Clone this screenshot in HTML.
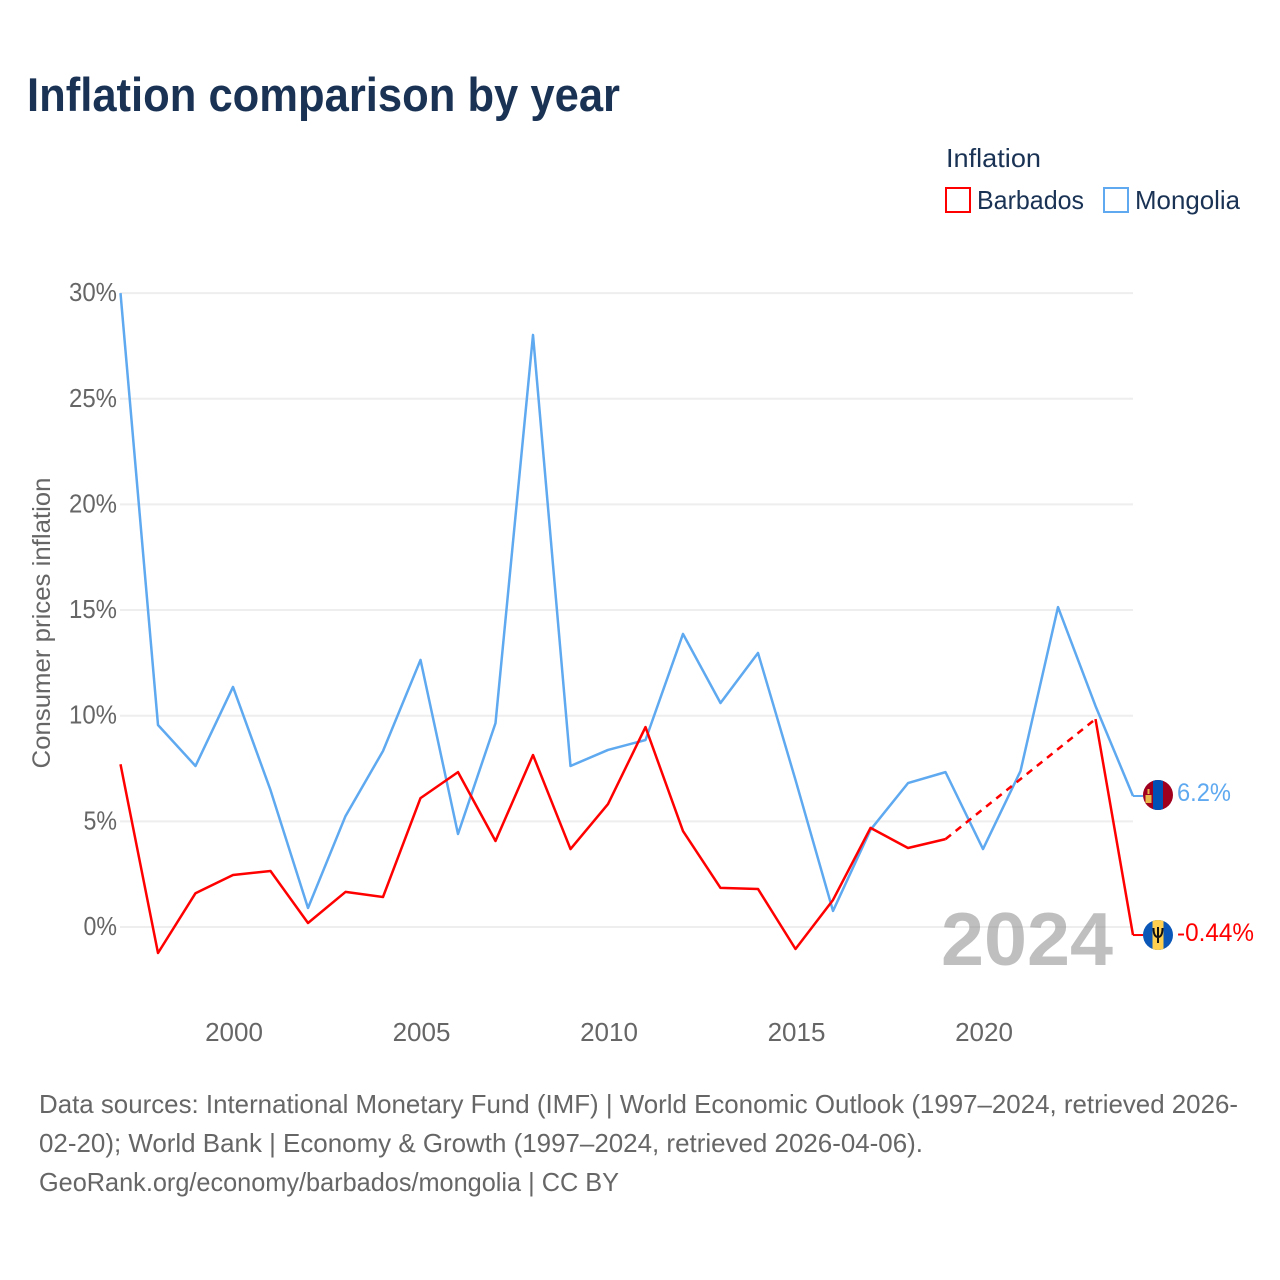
<!DOCTYPE html>
<html lang="en">
<head>
<meta charset="utf-8">
<title>Inflation comparison by year</title>
<style>
html,body{margin:0;padding:0;background:#fff}
svg{display:block}
text{font-family:"Liberation Sans",sans-serif}
</style>
</head>
<body>
<svg id="chart" xmlns="http://www.w3.org/2000/svg" width="1280" height="1280" viewBox="0 0 1280 1280">
<rect width="1280" height="1280" fill="#fff"/>
<text x="27" y="111" font-size="47" font-weight="700" fill="#1a3355" textLength="593" lengthAdjust="spacingAndGlyphs">Inflation comparison by year</text>
<g>
<text x="946" y="167" font-size="26" fill="#1a3355" textLength="95" lengthAdjust="spacingAndGlyphs">Inflation</text>
<rect x="946" y="188" width="24" height="24" fill="#fff" stroke="#ff0000" stroke-width="2"/>
<text x="977" y="209" font-size="26" fill="#1a3355" textLength="107" lengthAdjust="spacingAndGlyphs">Barbados</text>
<rect x="1104" y="188" width="24" height="24" fill="#fff" stroke="#5ea9f0" stroke-width="2"/>
<text x="1135" y="209" font-size="26" fill="#1a3355" textLength="105" lengthAdjust="spacingAndGlyphs">Mongolia</text>
</g>
<text transform="translate(50,623) rotate(-90)" text-anchor="middle" font-size="25" fill="#666" textLength="291" lengthAdjust="spacingAndGlyphs">Consumer prices inflation</text>
<g id="grid"></g>
<g id="y-ticks"></g>
<g id="x-ticks"></g>
<text x="941" y="965" font-size="75" font-weight="700" fill="#808080" fill-opacity="0.5" textLength="172" lengthAdjust="spacingAndGlyphs">2024</text>
<g id="series"></g>
<defs>
<clipPath id="flag-clip-mn"><circle id="clip-mn" cx="1158" cy="795" r="15"/></clipPath>
<clipPath id="flag-clip-bb"><circle id="clip-bb" cx="1158" cy="935" r="15"/></clipPath>
</defs>
<g id="flag-mn">
<g clip-path="url(#flag-clip-mn)">
<rect x="1143" y="780" width="30" height="30" fill="#a0001e"/>
<rect x="1153" y="780" width="10" height="30" fill="#0050b5"/>
<rect x="1145.500" y="795" width="6" height="8" fill="#e8b84a"/>
<rect x="1147.500" y="789" width="2" height="5" fill="#e8b84a"/>
</g>
</g>
<g id="flag-bb">
<g clip-path="url(#flag-clip-bb)">
<rect x="1143" y="920" width="30" height="30" fill="#0a57b8"/>
<rect x="1152.500" y="920" width="11" height="30" fill="#ffd04f"/>
<path d="M1158 927v16M1153.500 928c0 6 1.500 9 4.500 9s4.500-3 4.500-9" fill="none" stroke="#111" stroke-width="2"/>
</g>
</g>
<text id="label-mn" x="1177" y="801" font-size="25" fill="#5ea9f0" textLength="54" lengthAdjust="spacingAndGlyphs">6.2%</text>
<text id="label-bb" x="1177" y="941" font-size="25" fill="#ff0000" textLength="77" lengthAdjust="spacingAndGlyphs">-0.44%</text>
<g>
<text x="39" y="1113" font-size="26" fill="#666" textLength="1199" lengthAdjust="spacingAndGlyphs">Data sources: International Monetary Fund (IMF) | World Economic Outlook (1997–2024, retrieved 2026-</text>
<text x="39" y="1152" font-size="26" fill="#666" textLength="884" lengthAdjust="spacingAndGlyphs">02-20); World Bank | Economy &amp; Growth (1997–2024, retrieved 2026-04-06).</text>
<text x="39" y="1191" font-size="26" fill="#666" textLength="580" lengthAdjust="spacingAndGlyphs">GeoRank.org/economy/barbados/mongolia | CC BY</text>
</g>
</svg>
<script>
const years = [1997,1998,1999,2000,2001,2002,2003,2004,2005,2006,2007,2008,2009,2010,2011,2012,2013,2014,2015,2016,2017,2018,2019,2020,2021,2022,2023,2024];
const barbados = [7.7,-1.23,1.6,2.46,2.65,0.19,1.66,1.42,6.1,7.33,4.07,8.14,3.69,5.82,9.46,4.54,1.85,1.8,-1.04,1.28,4.69,3.74,4.16,null,null,null,9.84,-0.38];
const mongolia = [30,9.56,7.62,11.36,6.48,0.9,5.25,8.33,12.64,4.4,9.65,28.02,7.62,8.38,8.85,13.87,10.6,12.97,6.96,0.76,4.6,6.81,7.33,3.69,7.38,15.14,10.46,6.2];
const yTickValues = [0,5,10,15,20,25,30];
const yTickLabels = ["0%","5%","10%","15%","20%","25%","30%"];
const xTickValues = [2000,2005,2010,2015,2020];
const xTickLabels = ["2000","2005","2010","2015","2020"];

const NS = "http://www.w3.org/2000/svg";
function xScale(year){ return 120.5 + (year - 1997) * 37.5; }
function yScale(v){ return 927 - v * 21.13; }
function make(tag, attrs, parent){
  const el = document.createElementNS(NS, tag);
  for (const k in attrs) el.setAttribute(k, attrs[k]);
  parent.appendChild(el);
  return el;
}
const grid = document.getElementById("grid");
const yTicksG = document.getElementById("y-ticks");
const xTicksG = document.getElementById("x-ticks");
const seriesG = document.getElementById("series");

yTickValues.forEach(function(v, i){
  const line = make("line", {x1:120, x2:1133, y1:yScale(v), y2:yScale(v), stroke:"#eeeeee", "stroke-width":2}, grid);
  
  
  const label = yTickLabels[i];
  const w = (label.length - 1) * 14.5 + 19;
  const t = make("text", {x:117 - w, y:yScale(v)+8, "font-size":26, fill:"#666", textLength:w, lengthAdjust:"spacingAndGlyphs"}, yTicksG);
  t.textContent = label;
  
  
});
xTickValues.forEach(function(v, i){
  const t = make("text", {x:xScale(v) + 1, y:1041, "text-anchor":"middle", "font-size":26, fill:"#666"}, xTicksG);
  t.textContent = xTickLabels[i];
  
  
});

function drawSeries(values, color, key){
  let segment = [];
  let lastIdx = -1;
  const flush = function(){
    if (segment.length > 1) {
      const p = make("polyline", {points:segment.join(" "), fill:"none", stroke:color, "stroke-width":2.5, "stroke-linejoin":"round"}, seriesG);
      
      
    }
    segment = [];
  };
  values.forEach(function(v, i){
    if (v === null) return;
    if (lastIdx >= 0 && i - lastIdx > 1) {
      flush();
      const d = make("line", {x1:xScale(years[lastIdx]), y1:yScale(values[lastIdx]), x2:xScale(years[i]), y2:yScale(v), stroke:color, "stroke-width":2.5, "stroke-dasharray":"7 6"}, seriesG);
      
      
    }
    segment.push(xScale(years[i]) + "," + yScale(v));
    lastIdx = i;
  });
  flush();
  const endY = yScale(values[values.length-1]);
  const endX = xScale(years[years.length-1]);
  const c = make("line", {x1:endX, y1:endY, x2:endX+10, y2:endY, stroke:color, "stroke-width":2}, seriesG);
  
  
}
drawSeries(mongolia, "#5ea9f0", "mongolia");
drawSeries(barbados, "#ff0000", "barbados");
</script>
</body>
</html>
